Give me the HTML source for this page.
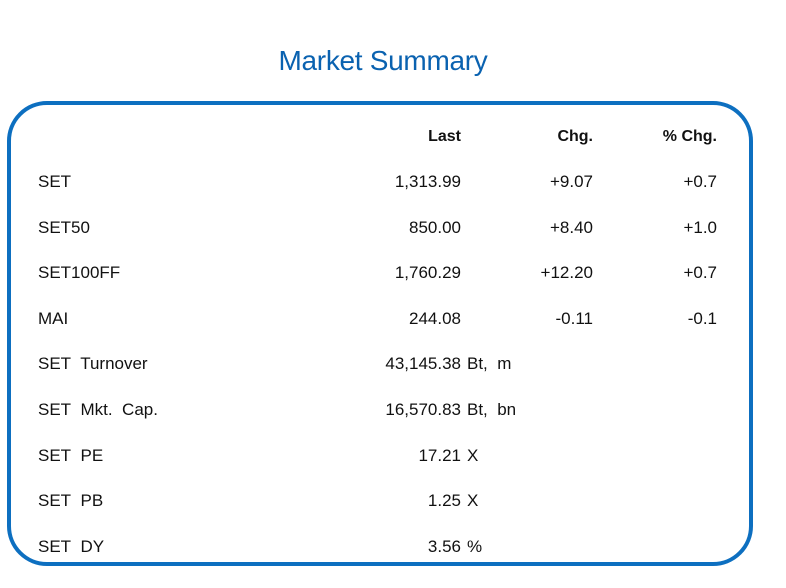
<!DOCTYPE html>
<html><head><style>
body{margin:0;width:786px;height:588px;background:#fff;position:relative;font-family:"Liberation Sans",sans-serif;color:#111;overflow:hidden}
.t{position:absolute;left:0;width:766px;text-align:center;top:45px;font-size:28px;color:#0a62b0;letter-spacing:-0.3px}
.box{position:absolute;left:7px;top:101px;width:738px;height:457px;border:4px solid #0d6fc0;border-radius:40px}
.r{position:absolute;font-size:17px;line-height:20px;white-space:nowrap}
.l{left:38px}
.v{right:325px;text-align:right}
.c{right:193px;text-align:right}
.p{right:69px;text-align:right}
.u{left:467px}
.h{font-weight:bold;font-size:16px}
</style></head><body>
<div class="t">Market Summary</div>
<div class="box"></div>
<div class="r v h" style="top:127px">Last</div>
<div class="r c h" style="top:127px">Chg.</div>
<div class="r p h" style="top:127px">% Chg.</div>

<div class="r l" style="top:172px">SET</div><div class="r v" style="top:172px">1,313.99</div><div class="r c" style="top:172px">+9.07</div><div class="r p" style="top:172px">+0.7</div>
<div class="r l" style="top:218px">SET50</div><div class="r v" style="top:218px">850.00</div><div class="r c" style="top:218px">+8.40</div><div class="r p" style="top:218px">+1.0</div>
<div class="r l" style="top:263px">SET100FF</div><div class="r v" style="top:263px">1,760.29</div><div class="r c" style="top:263px">+12.20</div><div class="r p" style="top:263px">+0.7</div>
<div class="r l" style="top:309px">MAI</div><div class="r v" style="top:309px">244.08</div><div class="r c" style="top:309px">-0.11</div><div class="r p" style="top:309px">-0.1</div>
<div class="r l" style="top:354px">SET&nbsp; Turnover</div><div class="r v" style="top:354px">43,145.38</div><div class="r u" style="top:354px">Bt,&nbsp; m</div>
<div class="r l" style="top:400px">SET&nbsp; Mkt.&nbsp; Cap.</div><div class="r v" style="top:400px">16,570.83</div><div class="r u" style="top:400px">Bt,&nbsp; bn</div>
<div class="r l" style="top:446px">SET&nbsp; PE</div><div class="r v" style="top:446px">17.21</div><div class="r u" style="top:446px">X</div>
<div class="r l" style="top:491px">SET&nbsp; PB</div><div class="r v" style="top:491px">1.25</div><div class="r u" style="top:491px">X</div>
<div class="r l" style="top:537px">SET&nbsp; DY</div><div class="r v" style="top:537px">3.56</div><div class="r u" style="top:537px">%</div>
</body></html>
